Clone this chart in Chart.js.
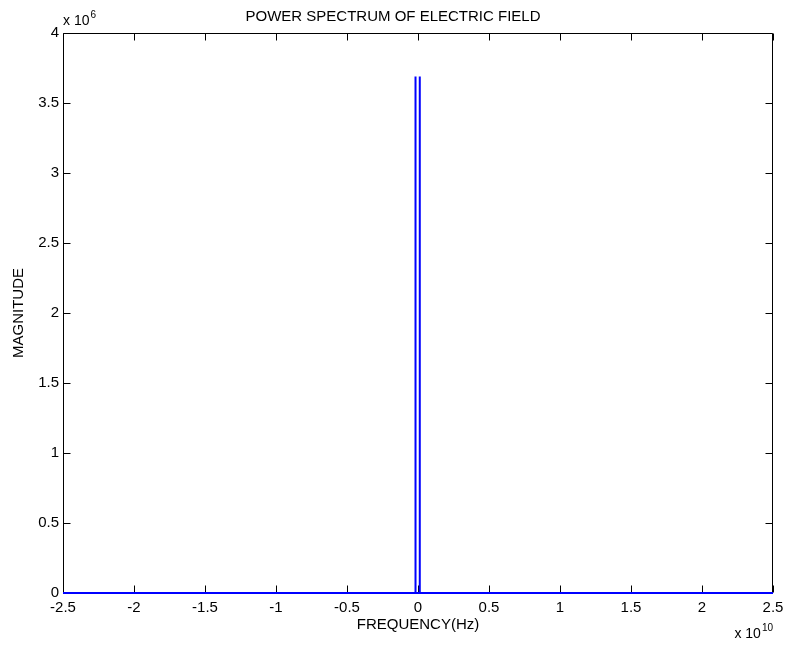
<!DOCTYPE html>
<html>
<head>
<meta charset="utf-8">
<title>Power spectrum</title>
<script src="https://cdn.jsdelivr.net/npm/chart.js@4.4.1/dist/chart.umd.min.js"></script>
<style>
  body { margin: 0; background: #fff; }
  canvas { display: block; }
</style>
</head>
<body>
<canvas id="spectrumChart" width="786" height="645"></canvas>
<script>
// spectrum samples (Hz, magnitude)
const freqHz = [-2.5e10, -1.9e8, -1.8e8, -1.7e8, 1.1e8, 1.2e8, 1.3e8, 2.5e10];
const magnitude = [0, 0, 3.69e6, 0, 0, 3.69e6, 0, 0];

const xTicks = [-2.5, -2, -1.5, -1, -0.5, 0, 0.5, 1, 1.5, 2, 2.5];
const yTicks = [0, 0.5, 1, 1.5, 2, 2.5, 3, 3.5, 4];
const xExponent = "10";
const yExponent = "6";

const FONT = "'Liberation Sans', Arial, sans-serif";
const SIZE = 15;

// box, inward tick marks and exponent labels
const matlabAxes = {
  id: "matlabAxes",
  beforeDatasetsDraw(chart) {
    const { ctx, chartArea: a, scales } = chart;
    ctx.save();
    ctx.strokeStyle = "#000";
    ctx.lineWidth = 1;
    ctx.beginPath();
    const L = Math.round(a.left) + 0.5, R = Math.round(a.right) - 0.5;
    const T = Math.round(a.top) + 0.5, B = Math.round(a.bottom) - 0.5;
    ctx.rect(L, T, R - L, B - T);
    const len = 7;
    xTicks.forEach(function (t) {
      const x = Math.round(scales.x.getPixelForValue(t * 1e10)) + 0.5;
      ctx.moveTo(x, B); ctx.lineTo(x, B - len);
      ctx.moveTo(x, T); ctx.lineTo(x, T + len);
    });
    yTicks.forEach(function (t) {
      const y = Math.round(scales.y.getPixelForValue(t * 1e6)) + 0.5;
      ctx.moveTo(L, y); ctx.lineTo(L + len, y);
      ctx.moveTo(R, y); ctx.lineTo(R - len, y);
    });
    ctx.stroke();
    ctx.restore();
  },
  afterDraw(chart) {
    const { ctx, chartArea: a } = chart;
    ctx.save();
    ctx.fillStyle = "#000";
    ctx.textBaseline = "alphabetic";
    ctx.textAlign = "left";

    // y multiplier, top left
    ctx.font = "14px " + FONT;
    const base = "x 10";
    const wBase = ctx.measureText(base).width;
    ctx.fillText(base, a.left, 25);
    ctx.font = "10px " + FONT;
    ctx.fillText(yExponent, a.left + wBase + 1, 18);

    // x multiplier, bottom right
    ctx.font = "10px " + FONT;
    const wSup = ctx.measureText(xExponent).width;
    const start = a.right - wSup - wBase - 1;
    ctx.font = "14px " + FONT;
    ctx.fillText(base, start, 638);
    ctx.font = "10px " + FONT;
    ctx.fillText(xExponent, start + wBase + 1, 631);
    ctx.restore();
  }
};

new Chart(document.getElementById("spectrumChart"), {
  type: "line",
  data: {
    datasets: [
      {
        data: freqHz.map(function (f, i) { return { x: f, y: magnitude[i] }; }),
        borderColor: "#0000ff",
        borderWidth: 2,
        borderJoinStyle: "bevel",
        pointRadius: 0,
        tension: 0,
        clip: false,
      },
    ],
  },
  options: {
    responsive: false,
    animation: false,
    layout: { padding: { left: 0, right: 0, top: 0, bottom: 0 } },
    plugins: {
      legend: { display: false },
      tooltip: { enabled: false },
      title: {
        display: true,
        text: "POWER SPECTRUM OF ELECTRIC FIELD",
        color: "#000",
        font: { family: FONT, size: SIZE, weight: "normal" },
        padding: { top: 8, bottom: 7 },
      },
    },
    scales: {
      x: {
        type: "linear",
        min: -2.5e10,
        max: 2.5e10,
        afterBuildTicks: function (s) {
          s.ticks = xTicks.map(function (t) { return { value: t * 1e10 }; });
        },
        afterFit: function (s) {
          s.height = 52;
          s.paddingLeft = 0;
          s.paddingRight = 13;
        },
        grid: { display: false, drawTicks: false },
        border: { display: false },
        ticks: {
          color: "#000",
          font: { family: FONT, size: SIZE },
          padding: 6,
          maxRotation: 0,
          autoSkip: false,
          callback: function (v) { return String(Math.round(v / 1e9) / 10); },
        },
        title: {
          display: true,
          text: "FREQUENCY(Hz)",
          color: "#000",
          font: { family: FONT, size: SIZE },
          padding: { top: 0, bottom: 11 },
        },
      },
      y: {
        type: "linear",
        min: 0,
        max: 4e6,
        afterBuildTicks: function (s) {
          s.ticks = yTicks.map(function (t) { return { value: t * 1e6 }; });
        },
        afterFit: function (s) { s.width = 63; },
        grid: { display: false, drawTicks: false },
        border: { display: false },
        ticks: {
          color: "#000",
          font: { family: FONT, size: SIZE },
          padding: 4,
          autoSkip: false,
          callback: function (v) { return String(Math.round(v / 1e5) / 10); },
        },
        title: {
          display: true,
          text: "MAGNITUDE",
          color: "#000",
          font: { family: FONT, size: SIZE },
          padding: { top: 9.5, bottom: 0 },
        },
      },
    },
  },
  plugins: [matlabAxes],
});
</script>
</body>
</html>
